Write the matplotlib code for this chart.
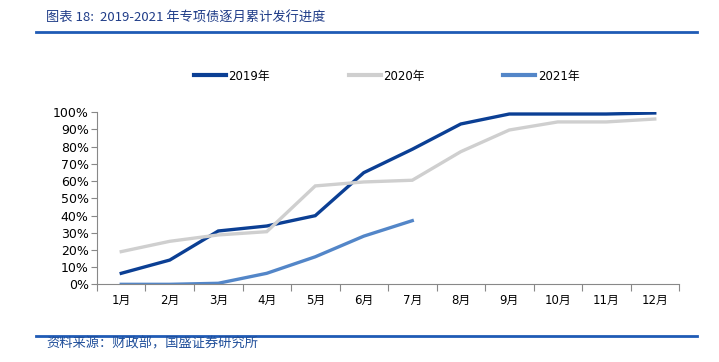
import matplotlib.pyplot as plt
from matplotlib.lines import Line2D

plt.rcParams['font.family'] = ['DejaVu Sans', 'Noto Sans CJK SC']

# Data
months = ['1月', '2月', '3月', '4月', '5月', '6月', '7月', '8月', '9月', '10月', '11月', '12月']
progress_2019 = [6.4, 14.1, 31.0, 33.9, 39.9, 64.9, 78.5, 93.2, 99.0, 99.0, 99.0, 99.6]
progress_2020 = [19.0, 25.0, 28.7, 30.6, 57.2, 59.5, 60.5, 77.1, 89.7, 94.4, 94.4, 96.1]
progress_2021 = [0.0, 0.0, 0.6, 6.4, 16.0, 28.0, 37.0]

c2019 = '#0B3F94'
c2020 = '#CFCFCF'
c2021 = '#5386C8'
frame_blue = '#1F5BB5'
cjk = ['DejaVu Sans', 'Noto Sans CJK SC']

fig = plt.figure(figsize=(7.19, 3.62), dpi=100)
ax = fig.add_axes([0.1349, 0.2146, 0.8095, 0.4752])

x = list(range(len(months)))
ax.plot(x, progress_2019, color=c2019, lw=2.4, solid_joinstyle='miter')
ax.plot(x, progress_2020, color=c2020, lw=2.4, solid_joinstyle='miter')
ax.plot(x[:len(progress_2021)], progress_2021, color=c2021, lw=2.4, solid_joinstyle='miter')

ax.set_xlim(-0.5, len(months) - 0.5)
ax.set_ylim(0, 100)
ax.set_yticks(range(0, 101, 10))
ax.set_yticklabels([f'{v}%' for v in range(0, 101, 10)], fontsize=9)
ax.set_xticks([i - 0.5 for i in range(len(months) + 1)])
ax.set_xticklabels([])
ax.set_xticks(x, minor=True)
ax.set_xticklabels(months, minor=True, fontsize=8.5, family=cjk)
ax.tick_params(axis='x', which='minor', length=0, pad=7)
ax.tick_params(axis='x', which='major', length=5, color='#888888', direction='out')
ax.tick_params(axis='y', length=4, color='#888888', direction='out', pad=2)

for side in ['top', 'right']:
    ax.spines[side].set_visible(False)
for side in ['left', 'bottom']:
    ax.spines[side].set_color('#888888')
    ax.spines[side].set_linewidth(0.8)

# Legend
handles = [Line2D([], [], color=c, lw=3) for c in (c2019, c2020, c2021)]
fig.legend(handles, ['2019年', '2020年', '2021年'], loc='center',
           bbox_to_anchor=(0.5376, 0.79), ncol=3, frameon=False,
           handlelength=2.7, handletextpad=0.2, columnspacing=6.7,
           prop={'family': cjk, 'size': 8.5})

# Title, frame lines and source
fig.text(0.064, 0.95, '图表 18:  2019-2021 年专项债逐月累计发行进度', fontsize=9.5,
         style='italic', color='#1F3C88', va='center',
         family=['Noto Sans CJK SC', 'DejaVu Sans'])
fig.add_artist(Line2D([0.05, 0.970], [0.911, 0.911], color=frame_blue, lw=2,
                      transform=fig.transFigure))
fig.add_artist(Line2D([0.05, 0.970], [0.072, 0.072], color=frame_blue, lw=2,
                      transform=fig.transFigure))
fig.text(0.064, 0.049, '资料来源：财政部，国盛证券研究所', fontsize=9.5,
         style='italic', color='#1F4E9A', va='center',
         family=['Noto Sans CJK SC', 'DejaVu Sans'])

fig.savefig('out.png', dpi=100)
